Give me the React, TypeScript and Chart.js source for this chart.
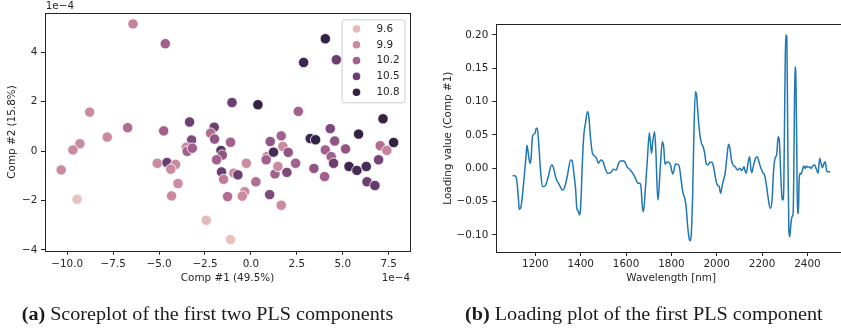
import React, { useEffect, useRef } from "react";
import { Chart, registerables } from "chart.js";

Chart.register(...registerables);

// ---------- (a) Score plot data (units of 1e-4) ----------
const scoreX = [
  -6.42, -4.66, 4.05, 2.87, 4.65, -8.78, -1.03, 0.38, 2.58, 7.19,
  -6.71, -7.82, -9.31, -9.69, -10.33, -9.46, -4.75, -3.34, -3.23, -3.52,
  -3.47, -3.19, -5.10, -4.57, -4.10, -4.36, -3.97, -4.32, -2.00, -2.20,
  -1.98, -1.63, -1.56, -1.87, -1.60, -1.49, -1.27, -1.11, -0.93, -0.71,
  -0.25, -0.34, -0.47, -2.43, -1.11, 0.27, 1.02, 0.87, 0.83, 1.05,
  1.23, 1.31, 1.47, 1.65, 1.74, 1.65, 2.03, 1.96, 2.43, 3.23,
  3.52, 3.43, 4.05, 4.01, 4.32, 4.37, 4.50, 4.56, 5.15, 5.34,
  5.77, 5.86, 6.28, 6.32, 6.75, 6.95, 7.04, 7.40, 7.77,
];
const scoreY = [
  5.15, 4.35, 4.55, 3.59, 3.70, 1.58, 1.97, 1.88, 1.61, 1.31,
  0.95, 0.57, 0.30, 0.05, -0.76, -1.95, 0.82, 1.18, 0.45, 0.16,
  -0.01, 0.12, -0.49, -0.46, -0.54, -0.73, -1.31, -1.81, 0.97, 0.73,
  0.49, 0.03, -0.16, -0.35, -0.84, -1.14, -1.84, 0.36, -0.89, -0.96,
  -0.49, -1.64, -1.82, -2.80, -3.58, -1.24, -1.76, -0.22, -0.35, 0.39,
  -0.04, -0.92, -0.62, 0.62, 0.19, -2.19, -0.05, -0.86, -0.49, 0.51,
  0.46, -0.70, 0.05, -1.03, 0.91, -0.22, -0.49, 0.41, 0.09, -0.62,
  -0.78, 0.69, -0.62, -1.24, -1.39, -0.35, 0.22, 0.03, 0.35,
];
const scoreHue = [
  9.95, 10.2, 10.8, 10.75, 10.5, 9.9, 10.5, 10.8, 10.2, 10.8,
  10.1, 9.9, 9.9, 9.9, 9.9, 9.55, 10.2, 10.5, 10.4, 9.9,
  10.2, 10.2, 9.9, 10.5, 9.9, 9.9, 9.9, 9.9, 10.5, 10.1,
  10.3, 10.6, 10.3, 10.2, 10.5, 10.0, 10.1, 10.2, 9.9, 10.5,
  9.9, 9.9, 9.9, 9.6, 9.55, 10.1, 10.4, 9.95, 10.2, 10.3,
  10.7, 10.2, 9.9, 10.2, 9.9, 9.9, 10.3, 10.4, 10.2, 10.75,
  10.8, 10.3, 10.2, 10.2, 10.4, 10.2, 10.5, 10.3, 10.3, 10.75,
  10.7, 10.8, 10.7, 10.5, 10.55, 10.45, 10.1, 9.95, 10.8,
];
const legendValues = [9.6, 9.9, 10.2, 10.5, 10.8];
const legendLabels = ["9.6", "9.9", "10.2", "10.5", "10.8"];
const hueMin = 9.46;
const hueMax = 10.84;
const scoreXTicks = [-10, -7.5, -5, -2.5, 0, 2.5, 5, 7.5];
const scoreYTicks = [-4, -2, 0, 2, 4];

// ---------- (b) Loading plot data ----------
const wavelengths = [
  1100, 1110, 1118, 1126, 1129, 1137, 1147, 1159, 1163, 1169, 1176, 1181, 1188, 1199, 1204, 1209, 1215, 1224, 1232, 1243, 1257, 1272, 1279, 1291,
  1305, 1320, 1328, 1342, 1356, 1362, 1370, 1378, 1383, 1389, 1396, 1400, 1408, 1414, 1421, 1430, 1436, 1443, 1452, 1462, 1470, 1478, 1489, 1499,
  1508, 1519, 1532, 1545, 1557, 1567, 1579, 1594, 1604, 1619, 1630, 1642, 1652, 1660, 1666, 1672, 1677, 1686, 1694,
  1703, 1709, 1713, 1718, 1726, 1732, 1740, 1744, 1753, 1760, 1766, 1772, 1779, 1788, 1796, 1806, 1810, 1818, 1828, 1835, 1843, 1850, 1859, 1865, 1872, 1879, 1884, 1888, 1894,
  1900, 1906, 1911, 1917, 1925, 1933, 1940, 1947, 1953, 1961, 1970, 1978, 1984, 1990, 1996, 2003, 2011, 2017, 2022, 2028, 2037, 2045, 2052, 2058, 2065, 2072, 2081, 2092, 2102,
  2110, 2120, 2124, 2130, 2139, 2145, 2151, 2155, 2161, 2171, 2179, 2186, 2195, 2205, 2211, 2219, 2226, 2233, 2238, 2245, 2249, 2257, 2264, 2271, 2276, 2282, 2288, 2292, 2296,
  2300, 2304, 2309, 2313, 2318, 2322, 2326, 2332, 2337, 2341, 2345, 2348, 2353, 2356, 2360, 2363, 2368, 2373, 2378, 2384, 2390, 2395, 2403, 2409, 2416, 2423, 2431, 2438, 2447, 2454, 2460, 2466, 2473, 2478, 2484, 2489, 2500,
];
const loadings = [
  -0.011, -0.011, -0.0175, -0.0475, -0.0615, -0.0575, -0.0275, 0.0175, 0.0345, 0.0225, 0.0075, 0.0135, 0.0485, 0.0525, 0.06, 0.06, 0.0375, -0.0075, -0.0275, -0.0265, -0.0125, 0.005, 0.0025, -0.015,
  -0.024, -0.0325, -0.03, -0.01, 0.0125, 0.0115, -0.0075, -0.0325, -0.06, -0.064, -0.07, -0.0575, 0.0125, 0.05, 0.0675, 0.085, 0.0775, 0.0475, 0.0225, 0.0185, 0.015, 0.0075, 0.0125, 0.01,
  0, -0.0075, -0.0065, -0.0015, -0.0025, 0.0075, 0.0115, 0.01, 0.0025, -0.0025, -0.0075, -0.015, -0.0225, -0.0225, -0.0275, -0.0575, -0.065, -0.0275, 0.0125,
  0.0535, 0.0325, 0.0225, 0.04, 0.055, 0.0225, -0.0475, -0.0375, 0.0125, 0.04, 0.0325, 0.006, 0.009, 0.009, 0.005, -0.0085, -0.005, 0.0065, 0.006, 0.0025, -0.0175, -0.035, -0.045, -0.0575, -0.0875, -0.1065, -0.1085, -0.0975, -0.0375,
  0.0625, 0.115, 0.11, 0.0825, 0.0525, 0.0375, 0.0325, 0.0225, 0.0075, 0.005, 0.009, 0.009, 0.005, -0.005, -0.0175, -0.025, -0.0275, -0.0375, -0.03, -0.02, -0.0075, 0.0175, 0.036, 0.03, 0.0125, 0.005, 0.0025, -0.0025, 0,
  -0.0035, 0.0025, -0.0025, -0.0075, 0.01, 0.0175, -0.0025, -0.0065, 0.0025, 0.015, 0.0175, 0.01, 0, -0.0075, -0.01, -0.025, -0.0425, -0.0575, -0.06, -0.0425, -0.0125, 0.015, 0.02, 0.0475, 0.0425, -0.0075, -0.045, -0.0475, -0.0225,
  0.1025, 0.2, 0.1975, 0.0525, -0.0925, -0.1025, -0.0875, -0.0725, -0.0675, 0.0325, 0.1525, 0.1475, 0.0275, -0.0675, -0.0675, -0.0225, -0.0075, -0.0085, -0.0025, 0.0035, 0, 0.0035, 0.0015, 0.0025, 0, 0.0035, 0.0055, 0, -0.0075, 0.015, 0.0075, 0.001, 0.0075, 0.01, -0.0025, -0.005, -0.005,
];
const loadXTicks = [1200, 1400, 1600, 1800, 2000, 2200, 2400];
const loadYTicks = [-0.1, -0.05, 0, 0.05, 0.1, 0.15, 0.2];

// ---------- styling helpers ----------
const FONT = { family: "'DejaVu Sans', sans-serif", size: 10.4 };
const TEXT = "#262626";
const SPINE = "#222222";

function fmt(v: number, d: number) {
  const s = Math.abs(v).toFixed(d);
  return v < -1e-12 ? "\u2212" + s : s;
}

function cubehelix(x: number) {
  const a = (0.8 * x * (1 - x)) / 2;
  const phi = 2 * Math.PI * (0.4 * x);
  const c = Math.cos(phi);
  const s = Math.sin(phi);
  const r = x + a * (-0.14861 * c + 1.78277 * s);
  const g = x + a * (-0.29227 * c - 0.90649 * s);
  const b = x + a * (1.97294 * c);
  const f = (v: number) => Math.round(Math.max(0, Math.min(1, v)) * 255);
  return `rgb(${f(r)},${f(g)},${f(b)})`;
}
function hueColor(h: number) {
  const t = Math.max(0, Math.min(1, (h - hueMin) / (hueMax - hueMin)));
  return cubehelix(0.85 - 0.7 * t);
}

function frameRect(ctx: CanvasRenderingContext2D, a: any) {
  ctx.save();
  ctx.strokeStyle = SPINE;
  ctx.lineWidth = 1;
  ctx.strokeRect(Math.round(a.left) + 0.5, Math.round(a.top) + 0.5, Math.round(a.right) - Math.round(a.left), Math.round(a.bottom) - Math.round(a.top));
  ctx.restore();
}

const scoreDecor = {
  id: "scoreDecor",
  afterDatasetsDraw(chart: any) {
    const { ctx, chartArea: a } = chart;
    ctx.save();
    const bw = 63;
    const bh = 83;
    const bx = a.right - 5.5 - bw;
    const by = a.top + 6;
    ctx.beginPath();
    (ctx as any).roundRect(bx + 0.5, by + 0.5, bw, bh, 2.5);
    ctx.fillStyle = "rgba(255,255,255,0.8)";
    ctx.fill();
    ctx.strokeStyle = "#cccccc";
    ctx.lineWidth = 1;
    ctx.stroke();
    ctx.font = `${FONT.size}px ${FONT.family}`;
    ctx.textBaseline = "middle";
    ctx.textAlign = "left";
    legendValues.forEach((v, i) => {
      const y = by + 9.7 + i * 15.8;
      ctx.beginPath();
      ctx.arc(bx + 15, y, 3.8, 0, Math.PI * 2);
      ctx.fillStyle = hueColor(v);
      ctx.fill();
      ctx.fillStyle = TEXT;
      ctx.fillText(legendLabels[i], bx + 35, y);
    });
    ctx.restore();
  },
  afterDraw(chart: any) {
    const { ctx, chartArea: a } = chart;
    frameRect(ctx, a);
    ctx.save();
    ctx.font = `${FONT.size}px ${FONT.family}`;
    ctx.fillStyle = TEXT;
    ctx.textBaseline = "middle";
    ctx.textAlign = "left";
    ctx.fillText("1e\u22124", a.left + 0.7, 6.7);
    ctx.textAlign = "right";
    ctx.fillText("1e\u22124", a.right, 278.3);
    ctx.restore();
  },
};

const loadDecor = {
  id: "loadDecor",
  afterDraw(chart: any) {
    frameRect(chart.ctx, chart.chartArea);
  },
};

function axisBase(extra: any) {
  return {
    type: "linear",
    grid: { display: true, drawOnChartArea: false, drawTicks: true, tickLength: 4, color: SPINE, lineWidth: 1 },
    border: { display: false },
    ...extra,
  };
}

function ScorePlot() {
  const ref = useRef<HTMLCanvasElement | null>(null);
  useEffect(() => {
    if (!ref.current) return;
    const chart = new Chart(ref.current, {
      type: "scatter",
      data: {
        datasets: [
          {
            data: scoreX.map((x, i) => ({ x, y: scoreY[i] })),
            backgroundColor: scoreHue.map(hueColor),
            borderColor: "#ffffff",
            borderWidth: 0.8,
            pointRadius: 5.2,
            pointHoverRadius: 5.2,
          },
        ],
      },
      options: {
        responsive: false,
        animation: false,
        events: [],
        layout: { padding: { left: 0, top: 13.3, right: 15, bottom: 0 } },
        plugins: { legend: { display: false }, tooltip: { enabled: false } },
        scales: {
          x: axisBase({
            min: -11.21,
            max: 8.66,
            afterBuildTicks: (s: any) => {
              s.ticks = scoreXTicks.map((v) => ({ value: v }));
            },
            afterFit: (s: any) => {
              s.height = 39.3;
            },
            ticks: { font: FONT, color: TEXT, padding: 3.3, maxRotation: 0, autoSkip: false, callback: (v: any) => fmt(Number(v), 1) },
            title: { display: true, text: "Comp #1 (49.5%)", font: FONT, color: TEXT, padding: { top: 0, bottom: 5.5 } },
          }),
          y: axisBase({
            min: -4.03,
            max: 5.58,
            afterBuildTicks: (s: any) => {
              s.ticks = scoreYTicks.map((v) => ({ value: v }));
            },
            afterFit: (s: any) => {
              s.width = 45;
            },
            ticks: { font: FONT, color: TEXT, padding: 3.7, autoSkip: false, callback: (v: any) => fmt(Number(v), 0) },
            title: { display: true, text: "Comp #2 (15.8%)", font: FONT, color: TEXT, padding: { top: 5.8, bottom: 0 } },
          }),
        },
      } as any,
      plugins: [scoreDecor],
    });
    return () => chart.destroy();
  }, []);
  return <canvas ref={ref} width={425} height={290} style={{ position: "absolute", left: 0, top: 0, width: 425, height: 290 }} />;
}

function LoadingPlot() {
  const ref = useRef<HTMLCanvasElement | null>(null);
  useEffect(() => {
    if (!ref.current) return;
    const chart = new Chart(ref.current, {
      type: "line",
      data: {
        datasets: [
          {
            data: wavelengths.map((x, i) => ({ x, y: loadings[i] })),
            borderColor: "#1f77b4",
            borderWidth: 1.5,
            pointRadius: 0,
            fill: false,
            cubicInterpolationMode: "monotone",
          },
        ],
      },
      options: {
        responsive: false,
        animation: false,
        events: [],
        layout: { padding: { left: 0, top: 24.3, right: 14, bottom: 0 } },
        plugins: { legend: { display: false }, tooltip: { enabled: false } },
        scales: {
          x: axisBase({
            min: 1028,
            max: 2570,
            afterBuildTicks: (s: any) => {
              s.ticks = loadXTicks.map((v) => ({ value: v }));
            },
            afterFit: (s: any) => {
              s.height = 38;
            },
            ticks: { font: FONT, color: TEXT, padding: 2, maxRotation: 0, autoSkip: false, callback: (v: any) => String(v) },
            title: { display: true, text: "Wavelength [nm]", font: FONT, color: TEXT, padding: { top: 0, bottom: 5.5 } },
          }),
          y: axisBase({
            min: -0.1255,
            max: 0.216,
            afterBuildTicks: (s: any) => {
              s.ticks = loadYTicks.map((v) => ({ value: v }));
            },
            afterFit: (s: any) => {
              s.width = 76.3;
            },
            ticks: { font: FONT, color: TEXT, padding: 4, autoSkip: false, callback: (v: any) => fmt(Number(v), 2) },
            title: { display: true, text: "Loading value (Comp #1)", font: FONT, color: TEXT, padding: { top: 22, bottom: 0 } },
          }),
        },
      } as any,
      plugins: [loadDecor],
    });
    return () => chart.destroy();
  }, []);
  return <canvas ref={ref} width={440} height={290} style={{ position: "absolute", left: 420, top: 0, width: 440, height: 290 }} />;
}

export default function App() {
  const serif = "'Liberation Serif', 'DejaVu Serif', serif";
  return (
    <div style={{ position: "absolute", left: 0, top: 0, width: 841, height: 329, overflow: "hidden", background: "#ffffff" }}>
      <ScorePlot />
      <LoadingPlot />
      <svg width={841} height={329} style={{ position: "absolute", left: 0, top: 0, pointerEvents: "none" }}>
        <text x={21.7} y={320} textLength={371.6} lengthAdjust="spacingAndGlyphs" fontFamily={serif} fontSize={18} fill="#1a1a1a">
          <tspan fontWeight="bold">(a)</tspan> Scoreplot of the first two PLS components
        </text>
        <text x={465} y={320} textLength={357.7} lengthAdjust="spacingAndGlyphs" fontFamily={serif} fontSize={18} fill="#1a1a1a">
          <tspan fontWeight="bold">(b)</tspan> Loading plot of the first PLS component
        </text>
      </svg>
    </div>
  );
}
